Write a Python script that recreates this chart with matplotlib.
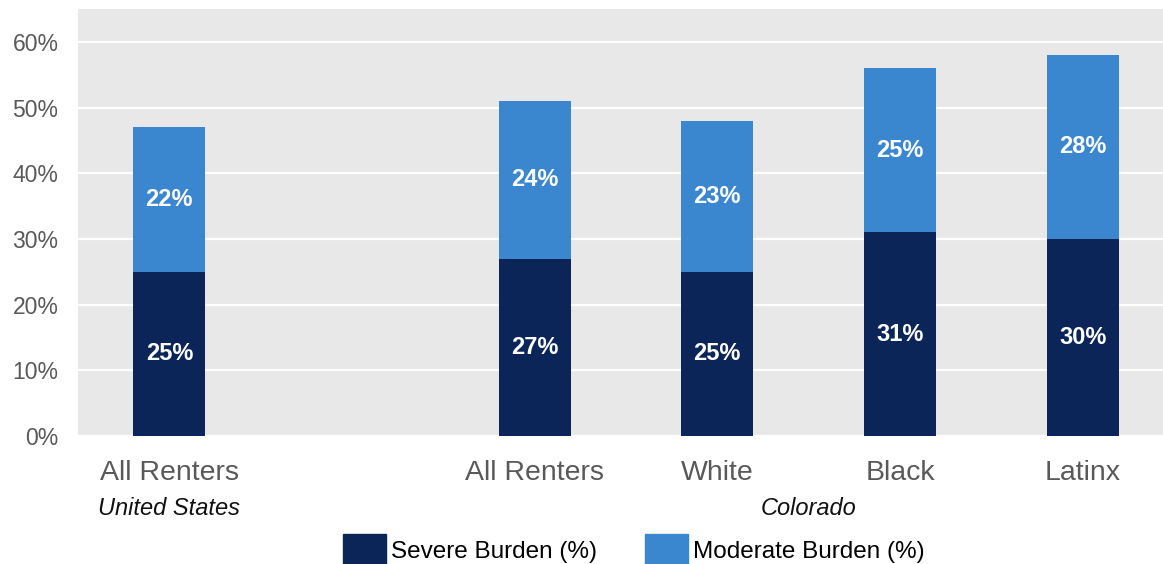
import numpy as np
import matplotlib as mpl
from matplotlib import pyplot as plt
from matplotlib.patches import Patch

mpl.rc('font', family=['Liberation Sans', 'DejaVu Sans'])

categories = ['All Renters', 'All Renters', 'White', 'Black', 'Latinx']
positions = [0, 2, 3, 4, 5]
severe = [25, 27, 25, 31, 30]
moderate = [22, 24, 23, 25, 28]
groups = ['United States', 'Colorado']
group_pos = [0, 3.5]

dark = '#0B2559'
light = '#3A86CF'


def main():
    fig = plt.figure(figsize=(11.63, 5.64), dpi=100)
    ax = fig.add_axes([78 / 1163, 1 - 436 / 564, 1 - 78 / 1163, 427 / 564])
    ax.set_facecolor('#E8E8E8')
    for s in ax.spines.values():
        s.set_visible(False)

    ax.set_ylim(0, 65)
    ax.set_xlim(-0.5, 5.44)
    ax.set_yticks(range(0, 61, 10))
    ax.set_yticklabels([f"{v}%" for v in range(0, 61, 10)])
    ax.yaxis.grid(True, color='white', lw=1.6)
    ax.set_axisbelow(True)
    ax.tick_params(axis='y', length=0, pad=14, labelsize=16.5, labelcolor='#595959')
    ax.set_xticks(positions)
    ax.set_xticklabels(categories)
    ax.tick_params(axis='x', length=0, pad=17, labelsize=20.5, labelcolor='#595959')

    w = 0.395
    ax.bar(positions, severe, width=w, color=dark)
    ax.bar(positions, moderate, width=w, bottom=severe, color=light)
    for x, s, m in zip(positions, severe, moderate):
        ax.text(x, s / 2, f"{s}%", ha='center', va='center', color='white',
                fontsize=17, fontweight='bold')
        ax.text(x, s + m / 2, f"{m}%", ha='center', va='center', color='white',
                fontsize=17, fontweight='bold')

    for g, gx in zip(groups, group_pos):
        ax.text(gx, -0.17, g, transform=ax.get_xaxis_transform(), ha='center',
                va='center', fontsize=17, style='italic', color='#111111')

    handles = [Patch(color=dark, label='Severe Burden (%)'),
               Patch(color=light, label='Moderate Burden (%)')]
    fig.legend(handles=handles, loc='center', bbox_to_anchor=(0.545, 1 - 550 / 564),
               ncol=2, frameon=False, fontsize=17.5, handlelength=1.75,
               handleheight=1.6, handletextpad=0.2, columnspacing=2.0)

    plt.savefig('out.png', dpi=100)


if __name__ == '__main__':
    main()
